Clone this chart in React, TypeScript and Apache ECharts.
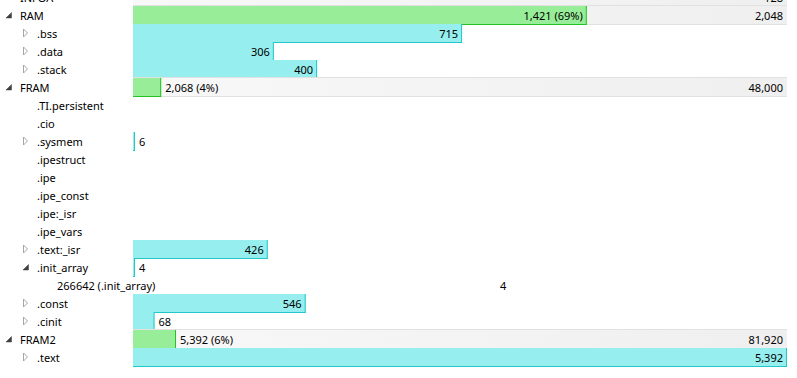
import React, { useEffect, useRef } from "react";
import * as echarts from "echarts";

// ---- data ----
const names = [
  "INFOA", "RAM", ".bss", ".data", ".stack", "FRAM", ".TI.persistent", ".cio", ".sysmem",
  ".ipestruct", ".ipe", ".ipe_const", ".ipe:_isr", ".ipe_vars", ".text:_isr", ".init_array",
  "266642 (.init_array)", ".const", ".cinit", "FRAM2", ".text",
];
const levels = [0, 0, 1, 1, 1, 0, 1, 1, 1, 1, 1, 1, 1, 1, 1, 1, 2, 1, 1, 0, 1];
// "open" = expanded node, "closed" = collapsed node, "" = leaf
const icons = [
  "", "open", "closed", "closed", "closed", "open", "", "", "closed", "", "", "", "", "",
  "closed", "open", "", "closed", "closed", "open", "closed",
];
const usedValues: (number | null)[] = [
  null, 1421, 715, 306, 400, 2068, null, null, 6, null, null, null, null, null, 426, 4,
  null, 546, 68, 5392, 5392,
];
const totalValues: (number | null)[] = [
  128, 2048, null, null, null, 48000, null, null, null, null, null, null, null, null, null, null,
  null, null, null, 81920, null,
];
const detailValues: (number | null)[] = [
  null, null, null, null, null, null, null, null, null, null, null, null, null, null, null, null,
  4, null, null, null, null,
];

const FONT = '11px "Noto Sans", sans-serif';
const GREEN = "#98ee98";
const GREEN_BORDER = "#22c322";
const CYAN = "#96eeee";
const CYAN_BORDER = "#22c8c8";
const TEXT_X = [20, 37, 57];
const DETAIL_FRAC = 0.561;

let ctx: CanvasRenderingContext2D | null = null;
function measure(t: string): number {
  if (!ctx) ctx = document.createElement("canvas").getContext("2d");
  if (!ctx) return t.length * 6;
  ctx.font = FONT;
  return ctx.measureText(t).width;
}
const fmt = (v: number) => v.toLocaleString("en-US");

// width reference: parents -> own total, children -> parent's used
const isParent = totalValues.map((t) => t != null);
const refs: number[] = [];
{
  let parentUsed = 1;
  usedValues.forEach((u, i) => {
    if (isParent[i]) {
      refs.push(totalValues[i] as number);
      parentUsed = u ?? 1;
    } else refs.push(parentUsed);
  });
}
const seriesData = usedValues.map((u, i) => [u == null ? 0 : u / refs[i], i]);

export default function App() {
  const ref = useRef<HTMLDivElement>(null);
  useEffect(() => {
    if (!ref.current) return;
    const chart = echarts.init(ref.current, null, { renderer: "svg" });
    chart.setOption({
      animation: false,
      grid: { left: 133, right: 10, top: 0, bottom: 12 },
      xAxis: { type: "value", min: 0, max: 1, show: false },
      yAxis: { type: "category", data: names, inverse: true, show: false },
      series: [
        {
          type: "custom",
          clip: false,
          data: seriesData,
          renderItem: (params: any, api: any) => {
            const i = params.dataIndex;
            const frac = api.value(0);
            const row = api.value(1);
            const p0 = api.coord([0, row]);
            const p1 = api.coord([1, row]);
            const h = api.size([0, 1])[1];
            const top = Math.round(p0[1] - h / 2);
            const bottom = top + h;
            const cy = top + h / 2;
            const x0 = p0[0];
            const full = p1[0] - p0[0];
            const children: any[] = [];
            const parent = isParent[i];
            if (parent) {
              children.push({
                type: "rect",
                shape: { x: x0, y: top, width: full, height: h },
                style: {
                  fill: new echarts.graphic.LinearGradient(0, 0, 1, 0, [
                    { offset: 0, color: "#f8f8f8" },
                    { offset: 1, color: "#efefef" },
                  ]),
                },
              });
              children.push({
                type: "line",
                shape: { x1: x0, y1: top - 0.5, x2: x0 + full, y2: top - 0.5 },
                style: { stroke: "#e1e1e1", lineWidth: 1 },
              });
              children.push({
                type: "line",
                shape: { x1: x0, y1: bottom + 0.5, x2: x0 + full, y2: bottom + 0.5 },
                style: { stroke: "#e1e1e1", lineWidth: 1 },
              });
            }
            const u = usedValues[i];
            if (u != null) {
              const w = Math.max(frac * full, 2);
              const fill = parent ? GREEN : CYAN;
              const border = parent ? GREEN_BORDER : CYAN_BORDER;
              children.push({
                type: "rect",
                shape: { x: x0, y: top, width: w, height: h },
                style: { fill },
              });
              children.push({
                type: "line",
                shape: { x1: x0 + w - 0.5, y1: top, x2: x0 + w - 0.5, y2: bottom + 1 },
                style: { stroke: border, lineWidth: 1 },
              });
              children.push({
                type: "line",
                shape: { x1: x0, y1: bottom + 0.5, x2: x0 + w, y2: bottom + 0.5 },
                style: { stroke: border, lineWidth: 1 },
              });
              const label = parent
                ? `${fmt(u)} (${Math.floor((u / (totalValues[i] as number)) * 100)}%)`
                : fmt(u);
              const tw = measure(label);
              const inside = tw + 20 <= w;
              children.push({
                type: "text",
                x: inside ? x0 + w - 4 : x0 + w + 4,
                y: cy,
                style: {
                  text: label,
                  font: FONT,
                  fill: "#000",
                  align: inside ? "right" : "left",
                  verticalAlign: "middle",
                },
              });
            }
            const t = totalValues[i];
            if (t != null) {
              children.push({
                type: "text",
                x: x0 + full - 4,
                y: cy,
                style: { text: fmt(t), font: FONT, fill: "#000", align: "right", verticalAlign: "middle" },
              });
            }
            const d = detailValues[i];
            if (d != null) {
              children.push({
                type: "text",
                x: x0 + DETAIL_FRAC * full,
                y: cy,
                style: { text: fmt(d), font: FONT, fill: "#000", align: "left", verticalAlign: "middle" },
              });
            }
            // tree label
            const lvl = levels[i];
            const tx = TEXT_X[lvl];
            children.push({
              type: "text",
              x: tx,
              y: cy,
              style: { text: names[i], font: FONT, fill: "#000", align: "left", verticalAlign: "middle" },
            });
            const ic = icons[i];
            const ix = tx - 14;
            if (ic === "open") {
              children.push({
                type: "polygon",
                shape: { points: [[ix + 5.5, cy - 2.5], [ix + 5.5, cy + 3], [ix, cy + 3]] },
                style: { fill: "#404040", stroke: "#404040", lineWidth: 0.5 },
              });
            } else if (ic === "closed") {
              children.push({
                type: "polygon",
                shape: { points: [[ix + 0.5, cy - 4], [ix + 4.5, cy], [ix + 0.5, cy + 4]] },
                style: { fill: "none", stroke: "#a6a6a6", lineWidth: 1 },
              });
            }
            return { type: "group", children };
          },
        },
      ],
    });
    return () => chart.dispose();
  }, []);
  return (
    <div
      ref={ref}
      style={{ position: "fixed", left: 0, top: -12, width: 797, height: 390, background: "#fff" }}
    />
  );
}
